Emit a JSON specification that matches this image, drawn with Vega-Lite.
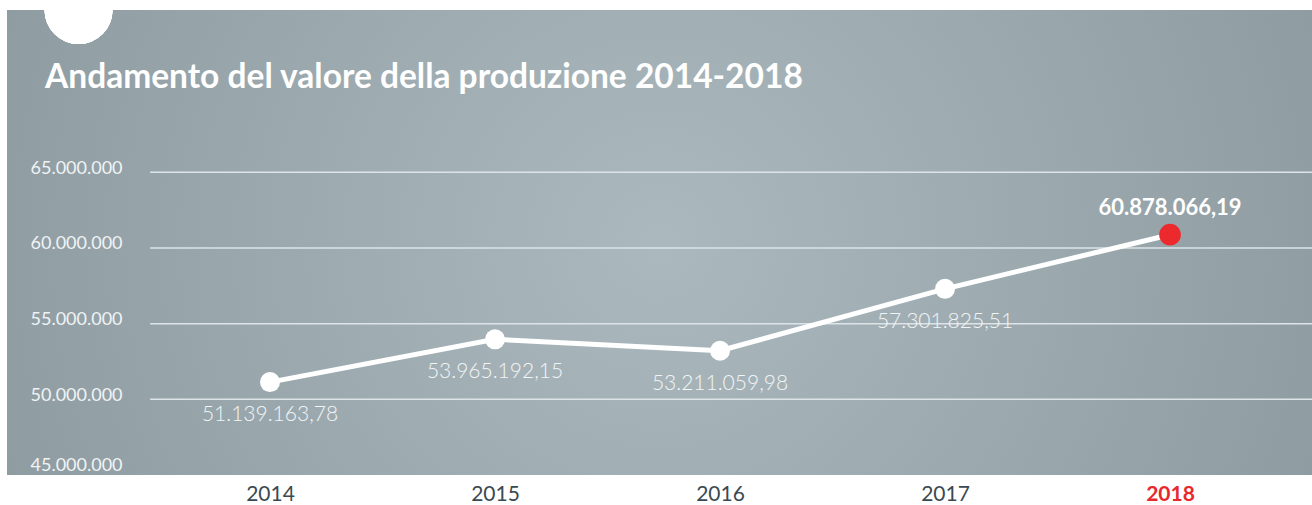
{
  "$schema": "https://vega.github.io/schema/vega-lite/v6.json",
  "width": 1305,
  "height": 465,
  "autosize": {"type": "none"},
  "padding": {"left": 7, "top": 10, "right": 0, "bottom": 30},
  "background": "#ffffff",
  "datasets": {
    "values": [
      {"anno": 2014, "valore": 51139163.78},
      {"anno": 2015, "valore": 53965192.15},
      {"anno": 2016, "valore": 53211059.98},
      {"anno": 2017, "valore": 57301825.51},
      {"anno": 2018, "valore": 60878066.19}
    ],
    "grid": [
      {"livello": 50000000},
      {"livello": 55000000},
      {"livello": 60000000},
      {"livello": 65000000}
    ],
    "titolo": [
      {"testo": "Andamento del valore della produzione 2014-2018"}
    ]
  },
  "data": {"name": "values"},
  "layer": [
    {
      "data": {"name": "grid"},
      "mark": {"type": "rule", "color": "#dde4e7", "strokeWidth": 1.5},
      "encoding": {
        "x": {"datum": 2013.467, "type": "quantitative", "scale": {"domain": [2012.831, 2018.631], "nice": false, "zero": false}, "axis": {
          "values": [2014, 2015, 2016, 2017, 2018],
          "format": "d",
          "title": null,
          "grid": false,
          "domain": false,
          "ticks": false,
          "tickSize": 0,
          "labelPadding": 19,
          "labelBaseline": "middle",
          "labelFont": "Lato",
          "labelFontSize": 21,
          "labelColor": {"condition": {"test": "datum.value == 2018", "value": "#e8282c"}, "value": "#3b4a52"},
          "labelFontWeight": {"condition": {"test": "datum.value == 2018", "value": "bold"}, "value": "normal"}
        }},
        "x2": {"datum": 2018.631},
        "y": {"field": "livello", "type": "quantitative", "scale": {"domain": [45000000, 75725000], "nice": false, "zero": false}, "axis": {
          "values": [45000000, 50000000, 55000000, 60000000, 65000000],
          "format": ",d",
          "title": null,
          "grid": false,
          "domain": false,
          "ticks": false,
          "tickSize": 0,
          "labelAlign": "left",
          "labelBaseline": "alphabetic",
          "labelPadding": -23,
          "labelOffset": {"condition": {"test": "datum.value == 45000000", "value": -5}, "value": 1},
          "labelFont": "Lato",
          "labelFontSize": 18,
          "labelColor": "#f0f3f4"
        }}
      }
    },
    {
      "mark": {"type": "point", "shape": "circle", "filled": true, "color": "#ffffff", "opacity": 1, "size": 4624, "clip": false},
      "encoding": {
        "x": {"datum": 2013.149, "type": "quantitative"},
        "y": {"datum": 75725000, "type": "quantitative"}
      }
    },
    {
      "data": {"name": "titolo"},
      "mark": {"type": "text", "font": "Lato", "fontSize": 33.5, "fontWeight": "bold", "color": "#ffffff", "align": "left", "baseline": "alphabetic"},
      "encoding": {
        "x": {"datum": 2013.0, "type": "quantitative"},
        "y": {"datum": 70571000, "type": "quantitative"},
        "text": {"field": "testo", "type": "nominal"}
      }
    },
    {
      "mark": {"type": "line", "color": "#ffffff", "strokeWidth": 5},
      "encoding": {
        "x": {"field": "anno", "type": "quantitative"},
        "y": {"field": "valore", "type": "quantitative"}
      }
    },
    {
      "mark": {"type": "point", "shape": "circle", "filled": true, "opacity": 1},
      "encoding": {
        "x": {"field": "anno", "type": "quantitative"},
        "y": {"field": "valore", "type": "quantitative"},
        "color": {"condition": {"test": "datum.anno == 2018", "value": "#ec2a2e"}, "value": "#ffffff"},
        "size": {"condition": {"test": "datum.anno == 2018", "value": 470}, "value": 400}
      }
    },
    {
      "transform": [{"filter": "datum.anno < 2018"}],
      "mark": {"type": "text", "font": "Lato", "fontSize": 21, "fontWeight": 300, "color": "#f2f5f6", "baseline": "middle", "align": "center", "dy": 33},
      "encoding": {
        "x": {"field": "anno", "type": "quantitative"},
        "y": {"field": "valore", "type": "quantitative"},
        "text": {"field": "valore", "type": "quantitative", "format": ",.2f"}
      }
    },
    {
      "transform": [{"filter": "datum.anno == 2018"}],
      "mark": {"type": "text", "font": "Lato", "fontSize": 22, "fontWeight": "bold", "color": "#ffffff", "baseline": "middle", "align": "center", "dy": -27},
      "encoding": {
        "x": {"field": "anno", "type": "quantitative"},
        "y": {"field": "valore", "type": "quantitative"},
        "text": {"field": "valore", "type": "quantitative", "format": ",.2f"}
      }
    }
  ],
  "config": {
    "locale": {"number": {"decimal": ",", "thousands": ".", "grouping": [3], "currency": ["€", ""]}},
    "view": {
      "stroke": null,
      "fill": {
        "gradient": "radial",
        "x1": 0.5, "y1": 0.5, "r1": 0,
        "x2": 0.5, "y2": 0.5, "r2": 0.6,
        "stops": [
          {"offset": 0, "color": "#abb9be"},
          {"offset": 1, "color": "#8b999f"}
        ]
      }
    }
  }
}
